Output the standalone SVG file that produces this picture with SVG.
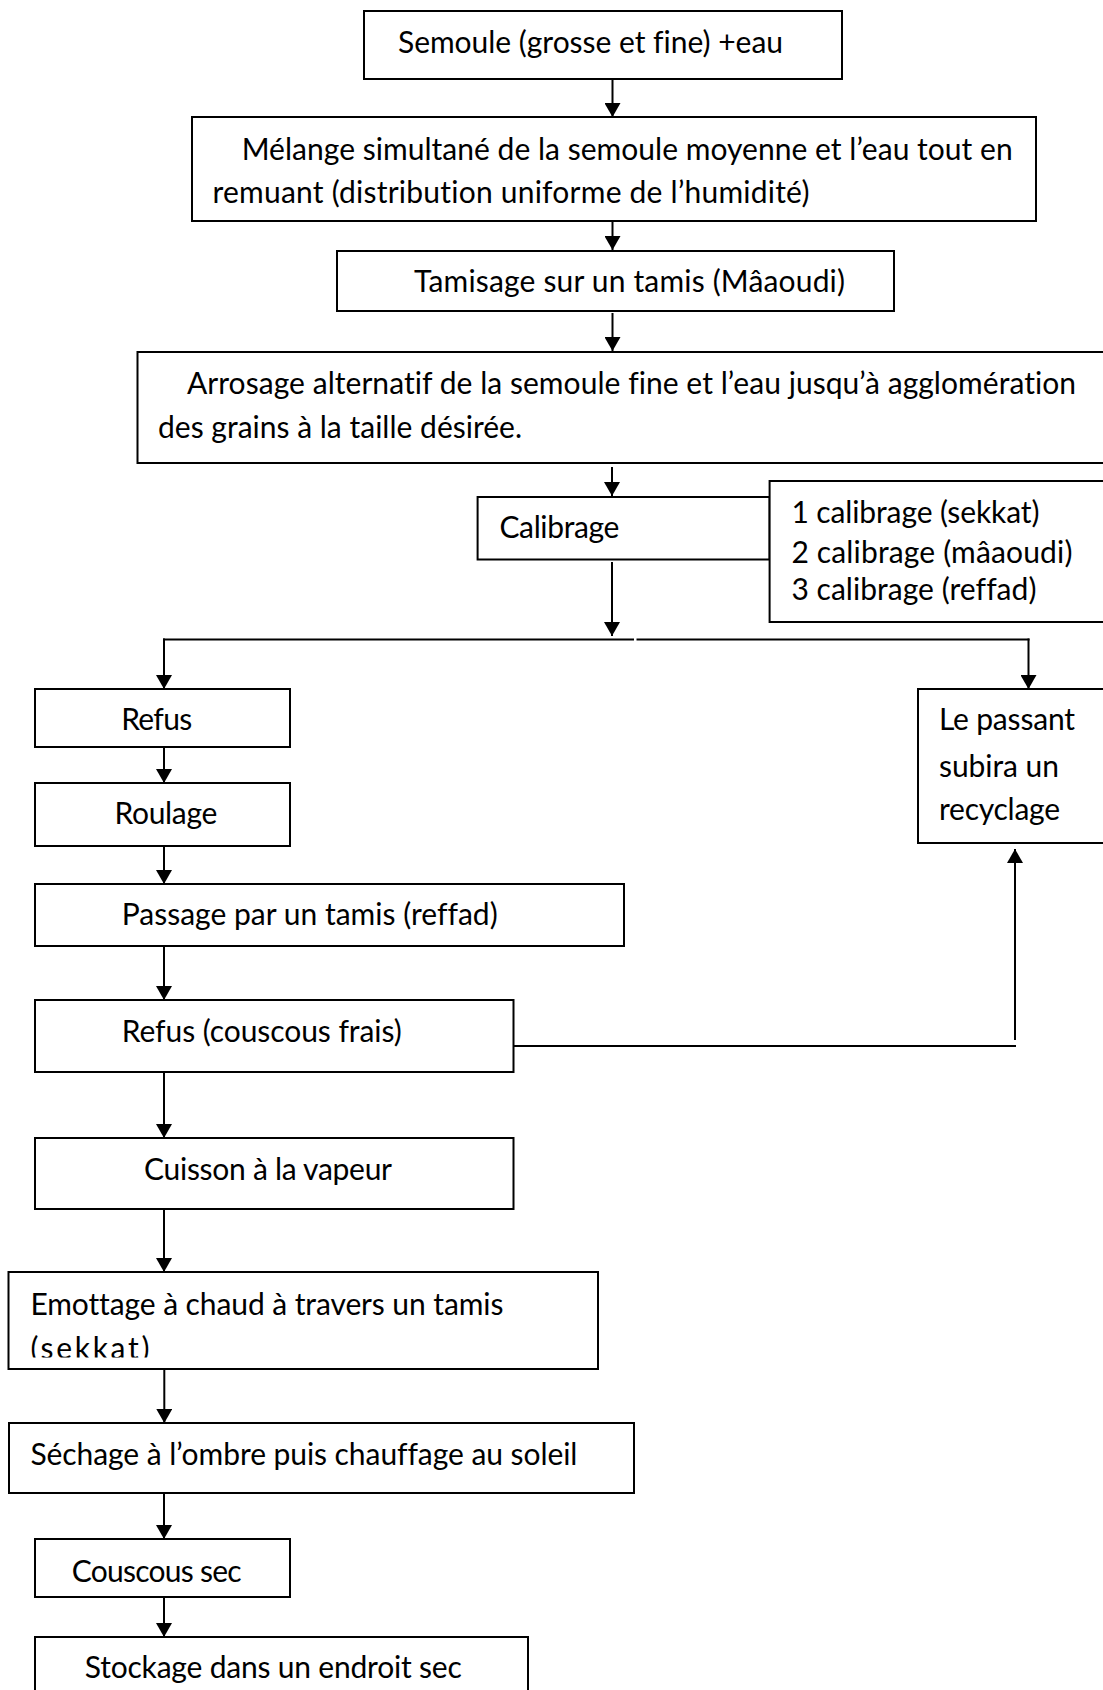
<svg xmlns="http://www.w3.org/2000/svg" width="1103" height="1690" viewBox="0 0 1103 1690">
<style>
.box{fill:#fff;stroke:#000;stroke-width:2}
.t{font-family:Lato,"Liberation Sans",sans-serif;font-size:30px;fill:#000;font-variant-ligatures:none;font-feature-settings:"liga" 0,"clig" 0}
.c{fill:none;stroke:#000;stroke-width:2}
</style>
<defs>
<marker id="ah" markerUnits="userSpaceOnUse" markerWidth="14" markerHeight="16" viewBox="0 0 14 16" refX="14" refY="8" orient="auto">
<path d="M0,0 L14,8 L0,16 z" fill="#000"/>
</marker>
<clipPath id="clipEmo"><rect x="0" y="1270" width="700" height="87.5"/></clipPath>
</defs>
<rect x="0" y="0" width="1103" height="1690" fill="#fff"/>
<g id="connectors">
<line class="c" x1="612.5" y1="79" x2="612.5" y2="117" marker-end="url(#ah)"/>
<line class="c" x1="612.5" y1="221" x2="612.5" y2="250" marker-end="url(#ah)"/>
<line class="c" x1="612.5" y1="313" x2="612.5" y2="351" marker-end="url(#ah)"/>
<line class="c" x1="612" y1="467" x2="612" y2="496" marker-end="url(#ah)"/>
<line class="c" x1="612" y1="562" x2="612" y2="636" marker-end="url(#ah)"/>
<line class="c" x1="163" y1="639.5" x2="634" y2="639.5"/>
<line class="c" x1="636.5" y1="639.5" x2="1029.5" y2="639.5"/>
<line class="c" x1="164" y1="638.5" x2="164" y2="689" marker-end="url(#ah)"/>
<line class="c" x1="1028.5" y1="638.5" x2="1028.5" y2="689" marker-end="url(#ah)"/>
<line class="c" x1="164" y1="748" x2="164" y2="783" marker-end="url(#ah)"/>
<line class="c" x1="164" y1="847" x2="164" y2="884" marker-end="url(#ah)"/>
<line class="c" x1="164" y1="947" x2="164" y2="1000" marker-end="url(#ah)"/>
<line class="c" x1="164" y1="1073" x2="164" y2="1138" marker-end="url(#ah)"/>
<line class="c" x1="164" y1="1210" x2="164" y2="1272" marker-end="url(#ah)"/>
<line class="c" x1="164.3" y1="1370" x2="164.3" y2="1423" marker-end="url(#ah)"/>
<line class="c" x1="164" y1="1494" x2="164" y2="1539" marker-end="url(#ah)"/>
<line class="c" x1="164" y1="1598" x2="164" y2="1637" marker-end="url(#ah)"/>
<line class="c" x1="513.5" y1="1046" x2="1016" y2="1046"/>
<line class="c" x1="1015" y1="1040" x2="1015" y2="849" marker-end="url(#ah)"/>
</g>
<g id="n1"><rect class="box" x="364" y="11" width="478" height="68"/>
<text class="t" x="398" y="53" textLength="385">Semoule (grosse et fine) +eau</text></g>
<g id="n2"><rect class="box" x="192" y="117" width="844" height="104"/>
<text class="t" x="241.7" y="160" textLength="771">Mélange simultané de la semoule moyenne et l’eau tout en</text>
<text class="t" x="212.5" y="203" textLength="597">remuant (distribution uniforme de l’humidité)</text></g>
<g id="n3"><rect class="box" x="337" y="251" width="557" height="60"/>
<text class="t" x="414" y="292.3" textLength="431">Tamisage sur un tamis (Mâaoudi)</text></g>
<g id="n4"><rect class="box" x="137.5" y="352" width="980" height="111"/>
<text class="t" x="187" y="393.5" textLength="889">Arrosage alternatif de la semoule fine et l’eau jusqu’à agglomération</text>
<text class="t" x="158" y="437.5" textLength="364">des grains à la taille désirée.</text></g>
<g id="n5"><rect class="box" x="477.6" y="497" width="292" height="62.5"/>
<text class="t" x="499.4" y="538.3" textLength="120">Calibrage</text></g>
<g id="n6"><rect class="box" x="769.6" y="481" width="350" height="141"/>
<text class="t" x="791.4" y="523.3" textLength="248">1 calibrage (sekkat)</text>
<text class="t" x="791.4" y="562.7" textLength="281">2 calibrage (mâaoudi)</text>
<text class="t" x="791.4" y="600" textLength="245">3 calibrage (reffad)</text></g>
<g id="n7"><rect class="box" x="35" y="689" width="255" height="58"/>
<text class="t" x="121.2" y="730" textLength="71">Refus</text></g>
<g id="n8"><rect class="box" x="918" y="689" width="200" height="154"/>
<text class="t" x="939" y="730" textLength="136">Le passant</text>
<text class="t" x="939" y="776.7" textLength="120">subira un</text>
<text class="t" x="939" y="820" textLength="121">recyclage</text></g>
<g id="n9"><rect class="box" x="35" y="783" width="255" height="63"/>
<text class="t" x="114.4" y="824" textLength="103">Roulage</text></g>
<g id="n10"><rect class="box" x="35" y="884" width="589" height="62"/>
<text class="t" x="121.7" y="925" textLength="376">Passage par un tamis (reffad)</text></g>
<g id="n11"><rect class="box" x="35" y="1000" width="478.5" height="72"/>
<text class="t" x="121.7" y="1041.7" textLength="280">Refus (couscous frais)</text></g>
<g id="n12"><rect class="box" x="35" y="1138" width="478.5" height="71"/>
<text class="t" x="144" y="1180" textLength="248">Cuisson à la vapeur</text></g>
<g id="n13"><rect class="box" x="8.5" y="1272" width="589.5" height="97"/>
<g clip-path="url(#clipEmo)">
<text class="t" x="30.4" y="1315" textLength="473">Emottage à chaud à travers un tamis</text>
<text class="t" x="30.4" y="1359" textLength="119">(sekkat)</text></g></g>
<g id="n14"><rect class="box" x="9" y="1423" width="625" height="70"/>
<text class="t" x="30.4" y="1465" textLength="547">Séchage à l’ombre puis chauffage au soleil</text></g>
<g id="n15"><rect class="box" x="35" y="1539" width="255" height="58"/>
<text class="t" x="71.7" y="1582" textLength="170">Couscous sec</text></g>
<g id="n16"><rect class="box" x="35" y="1637" width="493" height="80"/>
<text class="t" x="84.8" y="1678" textLength="377">Stockage dans un endroit sec</text></g>
</svg>
